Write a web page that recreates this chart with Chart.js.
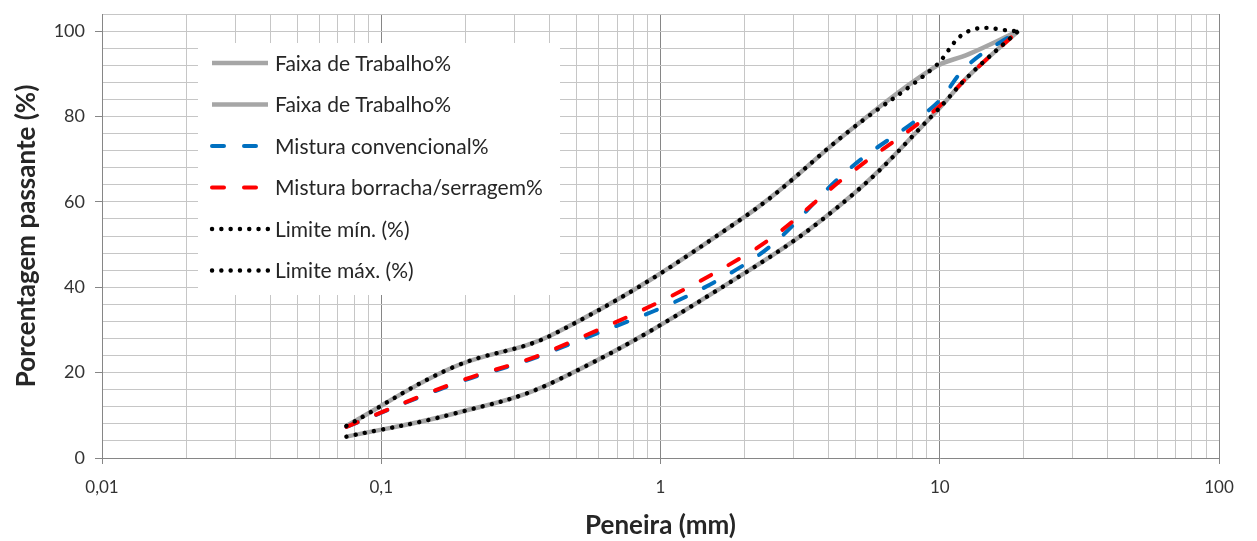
<!DOCTYPE html>
<html>
<head>
<meta charset="utf-8">
<script src="https://cdn.jsdelivr.net/npm/chart.js@4.4.1/dist/chart.umd.min.js"></script>
<style>
  html, body { margin: 0; padding: 0; background: #fff; }
  #wrap { width: 1257px; height: 541px; }
</style>
</head>
<body>
<div id="wrap"><canvas id="granulometria"></canvas></div>
<script>
// peneiras (mm) e % passante
const peneiras      = [0.075, 0.18, 0.42, 2.0, 4.8, 9.5, 12.7, 19.1];
const faixaSup      = [7.5, 21.2, 29.2, 56.5, 76.9, 91.4, 94.6, 100];
const faixaInf      = [5.0, 10.3, 18.0, 43.3, 61.3, 80.5, 89.5, 100];
const convencional  = [7.3, 17.2, 25.3, 45.3, 68.0, 82.4, 92.2, 100];
const borracha      = [7.3, 17.4, 25.6, 47.4, 66.8, 81.2, 89.5, 100];
const limiteMin     = [5.0, 10.3, 18.0, 43.3, 61.3, 80.5, 89.5, 100];
const limiteMax     = [7.5, 21.2, 29.2, 56.5, 76.9, 91.4, 100, 100];

const rotulosX = { '-2': '0,01', '-1': '0,1', '0': '1', '1': '10', '2': '100' };
const rotulosY = [0, 20, 40, 60, 80, 100];

const pontos = (arr) => peneiras.map((p, i) => ({ x: p, y: arr[i] }));
const ehDecada = (v) => Math.abs(Math.log10(v) - Math.round(Math.log10(v))) < 1e-9;

const FONTE = "Lato, 'Open Sans', sans-serif";

// legenda dentro da área do gráfico (caixa branca)
const legendaInterna = {
    id: 'legendaInterna',
    beforeDatasetsDraw(chart) {
        const ctx = chart.ctx;
        const a = chart.chartArea;
        const left = a.left + 96, top = a.top + 29;
        ctx.save();
        ctx.fillStyle = '#fff';
        ctx.fillRect(left, top, 362, 252);
        ctx.font = '21px ' + FONTE;
        ctx.textBaseline = 'middle';
        ctx.textAlign = 'left';
        chart.data.datasets.forEach((ds, i) => {
            const y = top + 20 + i * 41.5;
            ctx.beginPath();
            ctx.lineWidth = ds.borderWidth;
            ctx.strokeStyle = ds.borderColor;
            ctx.lineCap = ds.borderCapStyle || 'butt';
            ctx.setLineDash(ds.borderDash || []);
            ctx.moveTo(left + 14, y);
            ctx.lineTo(left + 70, y);
            ctx.stroke();
            ctx.setLineDash([]);
            ctx.fillStyle = '#262626';
            ctx.fillText(ds.label, left + 77, y + 1);
        });
        ctx.restore();
    }
};

new Chart(document.getElementById('granulometria').getContext('2d'), {
    type: 'line',
    data: {
        datasets: [
            { label: 'Faixa de Trabalho%', data: pontos(faixaSup), borderColor: '#a6a6a6', borderWidth: 4.5, order: 5 },
            { label: 'Faixa de Trabalho%', data: pontos(faixaInf), borderColor: '#a6a6a6', borderWidth: 4.5, order: 4 },
            { label: 'Mistura convencional%', data: pontos(convencional), borderColor: '#0070c0', borderWidth: 4,
              borderDash: [12, 20], borderCapStyle: 'round', order: 3 },
            { label: 'Mistura borracha/serragem%', data: pontos(borracha), borderColor: '#ff0000', borderWidth: 4,
              borderDash: [12, 20], borderCapStyle: 'round', order: 2 },
            { label: 'Limite mín. (%)', data: pontos(limiteMin), borderColor: '#000', borderWidth: 4.4,
              borderDash: [0.1, 9.2], borderCapStyle: 'round', order: 1 },
            { label: 'Limite máx. (%)', data: pontos(limiteMax), borderColor: '#000', borderWidth: 4.4,
              borderDash: [0.1, 9.2], borderCapStyle: 'round', order: 0 }
        ].map(ds => Object.assign({ fill: false, pointRadius: 0, tension: 0.4 }, ds))
    },
    options: {
        responsive: true,
        maintainAspectRatio: false,
        animation: false,
        devicePixelRatio: 1,
        layout: { padding: { top: 14, right: 38, bottom: 0, left: 0 } },
        plugins: {
            legend: { display: false },
            tooltip: { enabled: false }
        },
        scales: {
            x: {
                type: 'logarithmic',
                min: 0.01,
                max: 100,
                afterBuildTicks(scale) {
                    const t = [];
                    for (let e = -2; e <= 2; e++) {
                        for (let m = 1; m <= 9; m++) {
                            const v = parseFloat(m + 'e' + e);
                            if (v <= 100) t.push({ value: v, major: m === 1 });
                        }
                    }
                    scale.ticks = t;
                },
                afterFit(scale) { scale.height = 83; },
                border: { color: '#868686', width: 1 },
                grid: {
                    color: (c) => c.tick && ehDecada(c.tick.value) ? '#868686' : '#c6c6c6',
                    tickColor: (c) => c.tick && ehDecada(c.tick.value) ? '#868686' : 'rgba(0,0,0,0)',
                    tickLength: 6
                },
                ticks: {
                    autoSkip: false,
                    maxRotation: 0,
                    padding: 13,
                    color: '#333',
                    font: { family: FONTE, size: 17 },
                    callback: (v) => ehDecada(v) ? rotulosX[String(Math.round(Math.log10(v)))] : ''
                },
                title: {
                    display: true,
                    text: 'Peneira (mm)',
                    color: '#262626',
                    font: { family: FONTE, size: 26, weight: 'bold' },
                    padding: { top: 0, bottom: 0 }
                }
            },
            y: {
                min: 0,
                max: 104,
                afterFit(scale) { scale.width = 102; scale.paddingTop = 0; },
                border: { color: '#868686', width: 1 },
                grid: {
                    color: '#c6c6c6',
                    tickColor: (c) => c.tick && rotulosY.includes(c.tick.value) ? '#868686' : 'rgba(0,0,0,0)',
                    tickLength: 7
                },
                ticks: {
                    stepSize: 4,
                    autoSkip: false,
                    padding: 10,
                    color: '#333',
                    font: { family: FONTE, size: 18 },
                    callback: (v) => rotulosY.includes(v) ? String(v) : ''
                },
                title: {
                    display: true,
                    text: 'Porcentagem passante (%)',
                    color: '#262626',
                    font: { family: FONTE, size: 26, weight: 'bold' },
                    padding: { top: 11, bottom: 0 }
                }
            }
        }
    },
    plugins: [legendaInterna]
});
</script>
</body>
</html>
